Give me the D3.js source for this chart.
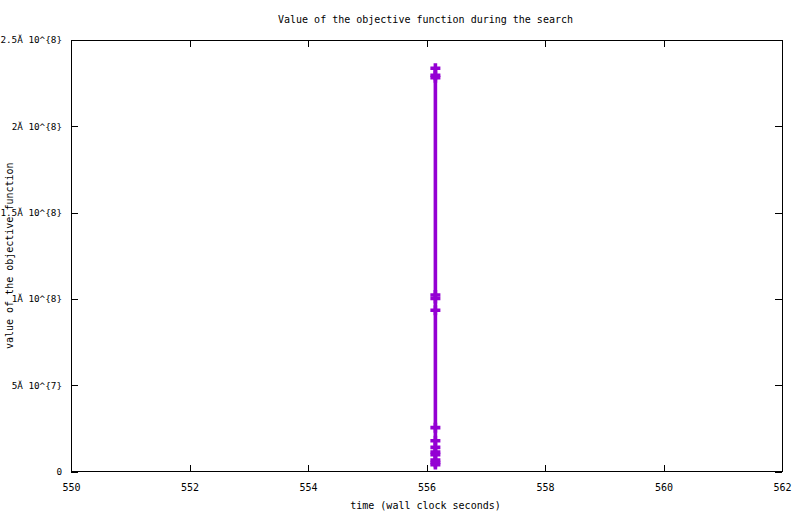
<!DOCTYPE html>
<html><head><meta charset="utf-8">
<script src="https://cdn.jsdelivr.net/npm/d3@7"></script>
<style>body{margin:0;background:#fff}text{font-family:"DejaVu Sans Mono","Liberation Mono",monospace;font-size:10px;fill:#000}.ytl text{font-size:9.3px}</style>
</head><body>
<script>
const title = "Value of the objective function during the search";
const xLabel = "time (wall clock seconds)";
const yLabel = "value of the objective function";
const xTicks = [550, 552, 554, 556, 558, 560, 562];
const yTicks = [0, 5e7, 1e8, 1.5e8, 2e8, 2.5e8];
const yTickLabels = ["0", "5Ă 10^{7}", "1Ă 10^{8}", "1.5Ă 10^{8}", "2Ă 10^{8}", "2.5Ă 10^{8}"];
const times = [556.15, 556.15, 556.15, 556.15, 556.15, 556.15, 556.15, 556.15, 556.15, 556.15, 556.15, 556.15, 556.15, 556.15];
const values = [2.336e8, 2.296e8, 2.282e8, 1.023e8, 1.002e8, 0.934e8, 0.254e8, 0.178e8, 0.140e8, 0.113e8, 0.098e8, 0.067e8, 0.052e8, 0.040e8];

const W = 800, H = 514;
const m = {l: 71, r: 782, t: 40, b: 471.5};
const svg = d3.select("body").append("svg").attr("width", W).attr("height", H);
const x = d3.scaleLinear().domain([550, 562]).range([m.l, m.r]);
const y = d3.scaleLinear().domain([0, 2.5e8]).range([m.b, m.t]);
const tl = 7;

// axes
const gx = svg.append("g").attr("transform", `translate(0,${m.b})`)
  .call(d3.axisBottom(x).tickValues(xTicks).tickFormat(d3.format("d")).tickSizeInner(-tl).tickSizeOuter(0).tickPadding(12));
const gxt = svg.append("g").attr("transform", `translate(0,${m.t})`)
  .call(d3.axisTop(x).tickValues(xTicks).tickFormat("").tickSizeInner(-tl).tickSizeOuter(0));
const gy = svg.append("g").attr("class", "ytl").attr("transform", `translate(${m.l},0)`)
  .call(d3.axisLeft(y).tickValues(yTicks).tickFormat((d, i) => yTickLabels[i]).tickSizeInner(-tl).tickSizeOuter(0).tickPadding(9));
const gyr = svg.append("g").attr("transform", `translate(${m.r},0)`)
  .call(d3.axisRight(y).tickValues(yTicks).tickFormat("").tickSizeInner(-tl).tickSizeOuter(0));
[gx, gxt, gy, gyr].forEach(g => {
  g.select(".domain").remove();
  g.selectAll("line").attr("stroke", "#000").attr("shape-rendering", "crispEdges");
  g.selectAll("text").attr("font-family", null).attr("font-size", null);
});
gx.selectAll("text").attr("dy", "0.71em");

svg.append("rect").attr("x", m.l).attr("y", m.t).attr("width", m.r - m.l).attr("height", m.b - m.t)
  .attr("fill", "none").attr("stroke", "#000").attr("stroke-width", 1).attr("shape-rendering", "crispEdges");

// labels
svg.append("text").attr("x", (m.l + m.r) / 2 - 1).attr("y", 23).attr("text-anchor", "middle").text(title);
svg.append("text").attr("x", (m.l + m.r) / 2 - 1).attr("y", 509).attr("text-anchor", "middle").text(xLabel);
svg.append("text").attr("transform", `translate(13,${(m.t + m.b) / 2}) rotate(-90)`).attr("text-anchor", "middle").text(yLabel);

// data
const pts = times.map((t, i) => [t, values[i]]);
const color = "#9400d3";
svg.append("path").datum(pts).attr("fill", "none").attr("stroke", color).attr("stroke-width", 3.6)
  .attr("d", d3.line().x(d => x(d[0])).y(d => y(d[1])));
const sz = 5;
svg.append("g").selectAll("path.pt").data(pts).join("path").attr("class", "pt")
  .attr("stroke", color).attr("stroke-width", 3.6).attr("fill", "none")
  .attr("d", d => `M${x(d[0]) - sz},${y(d[1])}H${x(d[0]) + sz}M${x(d[0])},${y(d[1]) - sz}V${y(d[1]) + sz}`);
</script>
</body></html>
